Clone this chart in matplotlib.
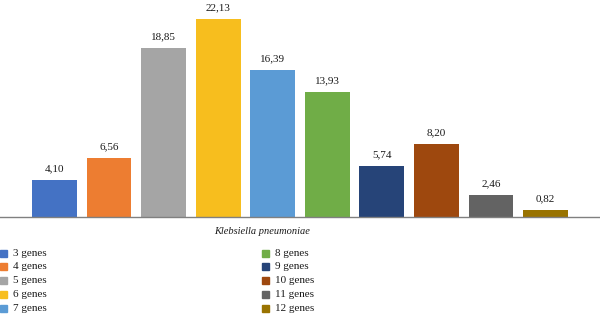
import matplotlib.pyplot as plt
from matplotlib.patches import Rectangle

categories = ["3 genes", "4 genes", "5 genes", "6 genes", "7 genes",
              "8 genes", "9 genes", "10 genes", "11 genes", "12 genes"]
values = [4.10, 6.56, 18.85, 22.13, 16.39, 13.93, 5.74, 8.20, 2.46, 0.82]
colors = ["#4472C4", "#ED7D31", "#A5A5A5", "#F7BE1E", "#5B9BD5",
          "#70AD47", "#264478", "#9E480E", "#636363", "#997300"]
xlabel = "Klebsiella pneumoniae"

plt.rcParams["font.family"] = ["Liberation Serif", "DejaVu Serif"]

W, H = 600, 315
fig = plt.figure(figsize=(W / 100, H / 100), dpi=100)
ax = fig.add_axes([0, 1 - 217 / H, 1, 217 / H])

x = list(range(len(values)))
bars = ax.bar(x, values, width=0.82, color=colors)
for b, v in zip(bars, values):
    ax.text(b.get_x() + b.get_width() / 2, v + 0.75, f"{v:.2f}".replace(".", ","),
            ha="center", va="bottom", fontsize=8, color="#1a1a1a")

ax.set_xlim(-1, 10)
ax.set_ylim(0, 24.25)
for s in ["top", "right", "left"]:
    ax.spines[s].set_visible(False)
ax.spines["bottom"].set_color("#808080")
ax.spines["bottom"].set_linewidth(1)
ax.set_xticks([])
ax.set_yticks([])

fig.text(262 / W, 1 - 232 / H, xlabel, ha="center", va="center",
         fontsize=7.5, style="italic", color="#1a1a1a")

# legend, two columns of five
for i, (c, lab) in enumerate(zip(colors, categories)):
    col, row = divmod(i, 5)
    mx = [0, 262][col]
    y = 253 + row * 13.9
    fig.patches.append(Rectangle((mx / W, 1 - (y + 3.5) / H), 7 / W, 7 / H,
                                 transform=fig.transFigure, color=c))
    fig.text((mx + 13) / W, 1 - y / H, lab, ha="left", va="center",
             fontsize=8, color="#1a1a1a")

fig.savefig("out.png", dpi=100)
